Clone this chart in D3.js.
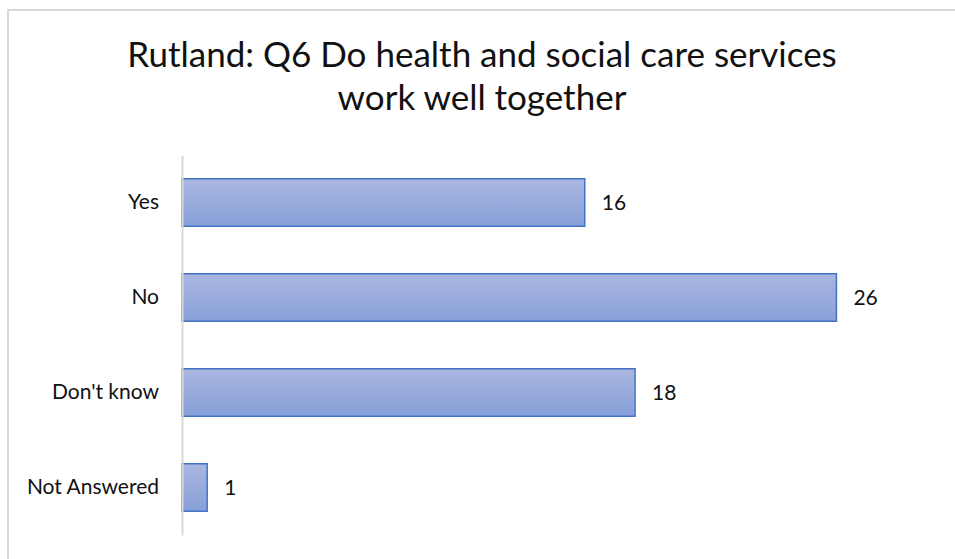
<!DOCTYPE html>
<html>
<head>
<meta charset="utf-8">
<script src="https://cdn.jsdelivr.net/npm/d3@7"></script>
<style>
  body { margin: 0; background: #fff; font-family: Lato, "Open Sans", sans-serif; }
  svg { display: block; }
</style>
</head>
<body>
<svg id="chart" width="955" height="559"></svg>
<script>
const categories = ["Yes", "No", "Don't know", "Not Answered"];
const values = [16, 26, 18, 1];
const titleLines = ["Rutland: Q6 Do health and social care services", "work well together"];

const svg = d3.select('#chart');
const width = 955, height = 559;
const margin = { top: 155, right: 67, bottom: 24, left: 182 };

// Chart area border (runs off the right and bottom)
svg.append('rect')
    .attr('x', 8)
    .attr('y', 10)
    .attr('width', 960)
    .attr('height', 560)
    .attr('fill', 'none')
    .attr('stroke', '#d9d9d9')
    .attr('stroke-width', 2);

// Title
svg.append('text')
    .attr('x', 482)
    .attr('y', 67)
    .attr('text-anchor', 'middle')
    .style('font-size', '35px')
    .style('fill', '#111')
    .selectAll('tspan')
    .data(titleLines)
    .join('tspan')
    .attr('x', 482)
    .attr('dy', (d, i) => i === 0 ? 0 : 43)
    .text(d => d);

const innerHeight = height - margin.top - margin.bottom;

const g = svg.append('g')
    .attr('transform', `translate(${margin.left},${margin.top})`);

const xScale = d3.scaleLinear()
    .domain([0, 28])
    .range([0, 28 * 25.17]);

const yScale = d3.scaleBand()
    .domain(categories)
    .range([0, innerHeight])
    .paddingInner(0.5)
    .paddingOuter(0.25);

// Gradient fill
const defs = svg.append('defs');
const grad = defs.append('linearGradient')
    .attr('id', 'barGrad')
    .attr('x1', 0).attr('y1', 0)
    .attr('x2', 0).attr('y2', 1);
grad.append('stop').attr('offset', '0%').attr('stop-color', '#aab7e1');
grad.append('stop').attr('offset', '100%').attr('stop-color', '#879fd8');

const data = categories.map((c, i) => ({ category: c, value: values[i] }));

// Bars
g.selectAll('.bar')
    .data(data)
    .join('rect')
    .attr('class', 'bar')
    .attr('x', 0)
    .attr('y', d => yScale(d.category))
    .attr('width', d => xScale(d.value))
    .attr('height', yScale.bandwidth())
    .attr('fill', 'url(#barGrad)')
    .attr('stroke', '#4472c4')
    .attr('stroke-width', 1.5);

// Value labels
g.selectAll('.value-label')
    .data(data)
    .join('text')
    .attr('class', 'value-label')
    .attr('x', d => xScale(d.value) + 17)
    .attr('y', d => yScale(d.category) + yScale.bandwidth() / 2)
    .attr('dy', '0.35em')
    .style('font-size', '21px')
    .style('fill', '#111')
    .text(d => d.value);

// Y axis
const yAxis = g.append('g')
    .call(d3.axisLeft(yScale).tickSize(0).tickPadding(23));

yAxis.select('.domain')
    .attr('stroke', '#d9d9d9')
    .attr('stroke-width', 2);

yAxis.selectAll('text')
    .style('font-size', '21px')
    .style('font-family', 'Lato, "Open Sans", sans-serif')
    .style('fill', '#111');
</script>
</body>
</html>
